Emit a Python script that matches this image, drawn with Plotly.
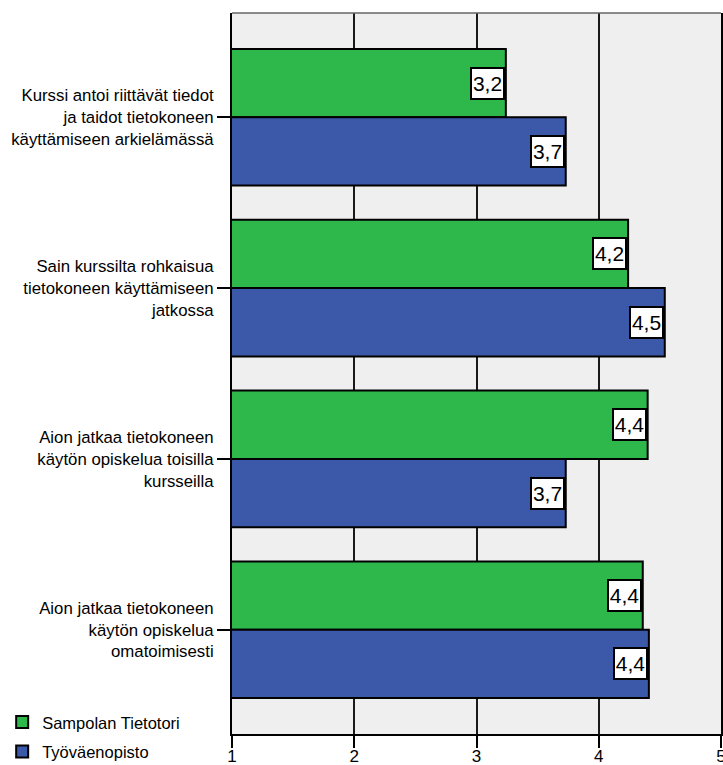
import plotly.graph_objects as go

# Survey statements (y categories) and mean scores per provider
statements = [
    "Kurssi antoi riittävät tiedot<br>ja taidot tietokoneen<br>käyttämiseen arkielämässä",
    "Sain kurssilta rohkaisua<br>tietokoneen käyttämiseen<br>jatkossa",
    "Aion jatkaa tietokoneen<br>käytön opiskelua toisilla<br>kursseilla",
    "Aion jatkaa tietokoneen<br>käytön opiskelua<br>omatoimisesti",
]
series_names = ["Sampolan Tietotori", "Työväenopisto"]
sampola = [3.24, 4.24, 4.40, 4.36]
tyovaen = [3.73, 4.54, 3.73, 4.41]
x_ticks = [1, 2, 3, 4, 5]

colors = ["#2eb84b", "#3c58a8"]
FONT = "Liberation Sans, Arial, sans-serif"

positions = list(range(len(statements)))

fig = go.Figure()
for i, (name, vals, col) in enumerate(zip(series_names, [sampola, tyovaen], colors)):
    fig.add_trace(go.Bar(
        y=positions, x=vals, name=name, orientation="h",
        legendgroup=f"g{i}",
        marker=dict(color=col, line=dict(color="black", width=2)),
        hoverinfo="x+name",
    ))

# Value boxes at the end of each bar
def fmt(v):
    return f"{v:.1f}".replace(".", ",")

annotations = []
for k, vals in enumerate([sampola, tyovaen]):
    off = -0.2 if k == 0 else 0.2
    for p, v in zip(positions, vals):
        annotations.append(dict(
            x=v, y=p + off, xref="x", yref="y",
            text=fmt(v), showarrow=False,
            xanchor="right", yanchor="middle", xshift=-1,
            width=29, height=27, align="center", valign="middle",
            font=dict(family=FONT, size=21, color="black"),
            bgcolor="white", bordercolor="black", borderwidth=2, borderpad=1,
        ))

fig.update_layout(
    width=723, height=765,
    margin=dict(l=232, r=2, t=13, b=31, autoexpand=False),
    paper_bgcolor="white", plot_bgcolor="#efefef",
    barmode="group", bargap=0.2, bargroupgap=0,
    font=dict(family=FONT, size=16.5, color="black"),
    showlegend=True,
    legend=dict(
        x=-0.47, y=-0.004, xanchor="left", yanchor="middle",
        bgcolor="rgba(0,0,0,0)", traceorder="grouped", tracegroupgap=5,
        font=dict(family=FONT, size=16.5, color="black"),
        itemclick=False, itemdoubleclick=False,
    ),
    annotations=annotations,
    shapes=[dict(type="line", xref="paper", yref="paper", x0=0, x1=1, y0=1, y1=1,
                 line=dict(color="#666666", width=1.5))],
)

fig.update_xaxes(
    range=[1, 5], tickvals=x_ticks, ticktext=[str(t) for t in x_ticks],
    showgrid=True, gridcolor="#1a1a1a", gridwidth=1.5,
    showline=True, linecolor="black", linewidth=2,
    ticks="outside", ticklen=12, tickwidth=2, tickcolor="black",
    ticklabeloverflow="allow", ticklabelstandoff=-6,
    tickfont=dict(size=17), automargin=False,
    zeroline=False, fixedrange=True,
)
fig.update_yaxes(
    range=[3.61, -0.61], tickvals=positions, ticktext=statements,
    showgrid=False, zeroline=False,
    showline=True, linecolor="black", linewidth=2, mirror=True,
    ticks="outside", ticklen=13, tickwidth=2, tickcolor="black",
    tickfont=dict(size=16.8), automargin=False,
    fixedrange=True,
)

fig.write_html("out.html")
